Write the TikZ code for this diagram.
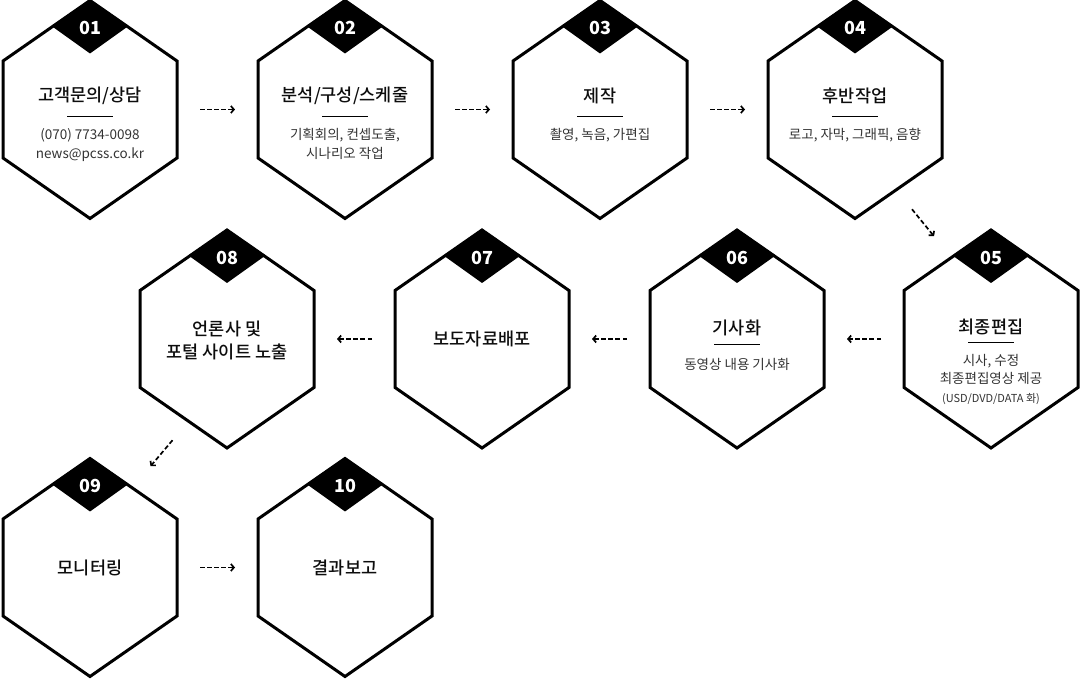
\documentclass[tikz,border=0pt]{standalone}
\usepackage{fontspec}
\setmainfont{Noto Sans CJK KR}
\newfontfamily\krmed{Noto Sans CJK KR Medium}
\usepackage{tikz}
\usetikzlibrary{positioning, calc, arrows.meta}

\tikzset{
  hexbox/.style={minimum width=174pt, minimum height=218pt, inner sep=0pt, outer sep=0pt},
  ttl/.style={font=\krmed\fontsize{17.5}{21}\selectfont, text=black!95, inner sep=0pt},
  subt/.style={font=\fontsize{13.5}{18.5}\selectfont, text=black!80, align=center, inner sep=0pt, anchor=north},
  num/.style={font=\fontsize{18}{20}\selectfont\bfseries, text=white, inner sep=0pt},
  flow/.style={line width=1.7pt, dash pattern=on 4.5pt off 2.6pt, -{Straight Barb[length=3pt,width=7pt]},
    shorten <=23pt, shorten >=23pt}
}

% hexagon frame and number badge around a hexbox node
\newcommand{\hexframe}[2]{%
  \draw[line width=3pt] (#1.north) -- ($(#1.east)+(0,48.5)$) -- ($(#1.east)+(0,-48.5)$) -- (#1.south)
    -- ($(#1.west)+(0,-48.5)$) -- ($(#1.west)+(0,48.5)$) -- cycle;
  \fill ($(#1.north)+(0,1.2)$) -- ($(#1.north)+(38.5,-25.5)$) -- ($(#1.north)+(0,-53)$) -- ($(#1.north)+(-38.5,-25.5)$) -- cycle;
  \node[num] (#1n) at ($(#1.north)+(0,-27.5)$) {#2};
}
% short rule under a title
\newcommand{\titlerule}[2]{%
  \draw[line width=1pt] ($(#1)+(-23,#2)$) -- ($(#1)+(23,#2)$);
}

\begin{document}
\begin{tikzpicture}[x=1pt, y=1pt]
      \useasboundingbox (0,0) rectangle (1082,678);

      \node[hexbox] (h1) at (90,568.5) {};
      \node[hexbox] (h2) at (345,568.5) {};
      \node[hexbox] (h3) at (600,568.5) {};
      \node[hexbox] (h4) at (855,568.5) {};

      \node[hexbox] (h5) at (991,339) {};
      \node[hexbox] (h6) at (737,339) {};
      \node[hexbox] (h7) at (482,339) {};
      \node[hexbox] (h8) at (227,339) {};

      \node[hexbox] (h9) at (90,110.5) {};
      \node[hexbox] (h10) at (345,110.5) {};

      \hexframe{h1}{01}
      \hexframe{h2}{02}
      \hexframe{h3}{03}
      \hexframe{h4}{04}
      \hexframe{h5}{05}
      \hexframe{h6}{06}
      \hexframe{h7}{07}
      \hexframe{h8}{08}
      \hexframe{h9}{09}
      \hexframe{h10}{10}

      % row 1
      \node[ttl] (t1) at ($(h1)+(0,14)$) {고객문의/상담};
      \titlerule{h1}{-7}
      \node[subt] (s1) at ($(h1)+(0,-19)$) {(070) 7734-0098\\news@pcss.co.kr};

      \node[ttl] (t2) at ($(h2)+(0,14)$) {분석/구성/스케줄};
      \titlerule{h2}{-7}
      \node[subt] (s2) at ($(h2)+(0,-19)$) {기획회의, 컨셉도출,\\시나리오 작업};

      \node[ttl] (t3) at ($(h3)+(0,14)$) {제작};
      \titlerule{h3}{-7}
      \node[subt] (s3) at ($(h3)+(0,-19)$) {촬영, 녹음, 가편집};

      \node[ttl] (t4) at ($(h4)+(0,14)$) {후반작업};
      \titlerule{h4}{-7}
      \node[subt] (s4) at ($(h4)+(0,-19)$) {로고, 자막, 그래픽, 음향};

      % row 2
      \node[ttl] (t5) at ($(h5)+(0,12)$) {최종편집};
      \titlerule{h5}{-4}
      \node[subt] (s5) at ($(h5)+(0,-15)$) {시사, 수정\\최종편집영상 제공\\{\fontsize{11}{16}\selectfont (USD/DVD/DATA 화)}};

      \node[ttl] (t6) at ($(h6)+(0,11)$) {기사화};
      \titlerule{h6}{-6}
      \node[subt] (s6) at ($(h6)+(0,-19)$) {동영상 내용 기사화};

      \node[ttl] (t7) at (h7) {보도자료배포};

      \node[ttl, align=center] (t8) at ($(h8)+(0,-1)$) {언론사 및\\[2pt]포털 사이트 노출};

      % row 3
      \node[ttl] (t9) at (h9) {모니터링};
      \node[ttl] (t10) at (h10) {결과보고};

      \coordinate (d4) at ($(h4.south)!0.5!(h5.north)+(-11,15)$);
      \coordinate (d5) at ($(h4.south)!0.5!(h5.north)+(11,-12)$);
      \coordinate (d8) at ($(h8.south)!0.5!(h9.north)+(14,13)$);
      \coordinate (d9) at ($(h8.south)!0.5!(h9.north)+(-8,-13)$);

      \draw[flow] (node cs:name=h1, anchor=east) -- (node cs:name=h2, anchor=west);
      \draw[flow] (node cs:name=h2, anchor=east) -- (node cs:name=h3, anchor=west);
      \draw[flow] (node cs:name=h3, anchor=east) -- (node cs:name=h4, anchor=west);
      \draw[flow, shorten <=0pt, shorten >=0pt] (d4) -- (d5);
      \draw[flow] (node cs:name=h5, anchor=west) -- (node cs:name=h6, anchor=east);
      \draw[flow] (node cs:name=h6, anchor=west) -- (node cs:name=h7, anchor=east);
      \draw[flow] (node cs:name=h7, anchor=west) -- (node cs:name=h8, anchor=east);
      \draw[flow, shorten <=0pt, shorten >=0pt] (d8) -- (d9);
      \draw[flow] (node cs:name=h9, anchor=east) -- (node cs:name=h10, anchor=west);
    \end{tikzpicture}
\end{document}
